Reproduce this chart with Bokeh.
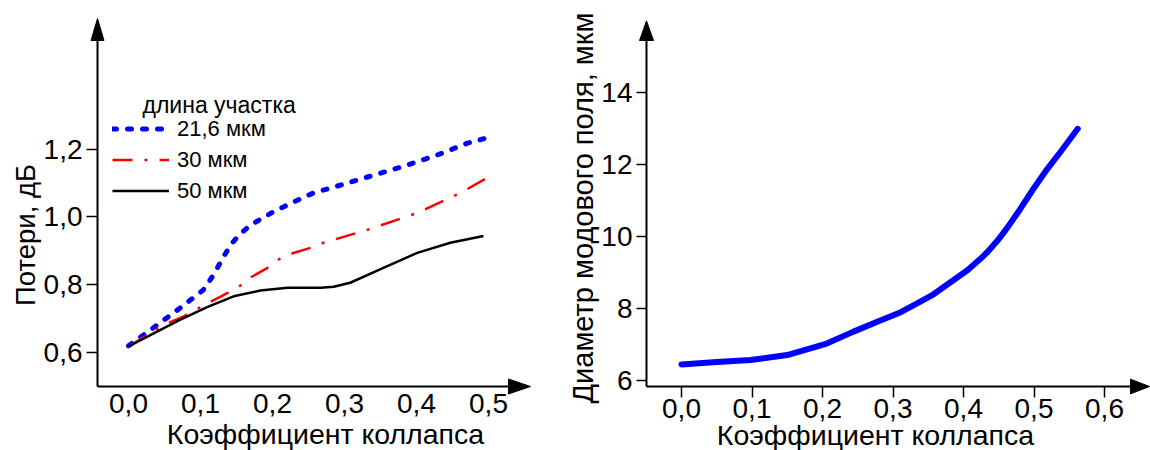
import math
from bokeh.plotting import figure
from bokeh.layouts import row
from bokeh.models import Range1d, FixedTicker, Legend, LegendItem, Label
from bokeh.core.properties import value
from bokeh.embed import file_html
from bokeh.resources import INLINE

# ---------------- data: left panel (losses) ----------------
loss_x_216 = [0.0, 0.035, 0.072, 0.104, 0.118, 0.131, 0.142, 0.153, 0.167, 0.179, 0.201, 0.229, 0.257,
              0.285, 0.332, 0.378, 0.424, 0.471, 0.506]
loss_y_216 = [0.62, 0.674, 0.732, 0.785, 0.829, 0.879, 0.918, 0.945, 0.972, 0.988, 1.015, 1.044, 1.071,
              1.088, 1.118, 1.147, 1.179, 1.218, 1.238]

loss_x_30 = [0.0, 0.049, 0.076, 0.111, 0.128, 0.153, 0.169, 0.193, 0.208, 0.229, 0.253, 0.271, 0.336,
             0.401, 0.461, 0.503]
loss_y_30 = [0.618, 0.682, 0.706, 0.747, 0.765, 0.794, 0.821, 0.850, 0.874, 0.894, 0.909, 0.924, 0.965,
             1.012, 1.071, 1.121]

loss_x_50 = [0.0, 0.035, 0.072, 0.110, 0.146, 0.183, 0.221, 0.267, 0.285, 0.308, 0.354, 0.401, 0.447, 0.493]
loss_y_50 = [0.618, 0.657, 0.697, 0.735, 0.766, 0.783, 0.791, 0.791, 0.794, 0.806, 0.850, 0.894, 0.924, 0.944]

legend_title = "длина участка"
series_labels = ["21,6 мкм", "30 мкм", "50 мкм"]

left_x_ticks = [0.0, 0.1, 0.2, 0.3, 0.4, 0.5]
left_x_labels = ["0,0", "0,1", "0,2", "0,3", "0,4", "0,5"]
loss_ticks = [0.6, 0.8, 1.0, 1.2]
loss_labels = ["0,6", "0,8", "1,0", "1,2"]

# ---------------- data: right panel (mode field diameter) ----------------
mfd_x = [0.0, 0.05, 0.098, 0.150, 0.206, 0.244, 0.282, 0.311, 0.329, 0.357, 0.377, 0.406, 0.424, 0.434,
         0.448, 0.462, 0.481, 0.499, 0.519, 0.538, 0.562]
mfd_y = [6.45, 6.52, 6.57, 6.71, 7.03, 7.36, 7.67, 7.90, 8.09, 8.39, 8.67, 9.07, 9.38, 9.57,
         9.88, 10.24, 10.78, 11.32, 11.88, 12.36, 12.99]

right_x_ticks = [0.0, 0.1, 0.2, 0.3, 0.4, 0.5, 0.6]
right_x_labels = ["0,0", "0,1", "0,2", "0,3", "0,4", "0,5", "0,6"]
mfd_ticks = [6, 8, 10, 12, 14]

x_title = "Коэффициент коллапса"
left_y_title = "Потери, дБ"
right_y_title = "Диаметр модового поля, мкм"

FONT = "Liberation Sans"
TICK_FS = "28px"


def style_axis(ax, ticks, overrides, tick_out, standoff):
    ax.ticker = FixedTicker(ticks=ticks)
    if overrides:
        ax.major_label_overrides = overrides
    ax.major_tick_out = tick_out
    ax.major_tick_in = 0
    ax.minor_tick_out = 0
    ax.minor_tick_in = 0
    ax.major_tick_line_width = 1.5
    ax.major_tick_line_color = "black"
    ax.axis_line_width = 2
    ax.axis_line_color = "black"
    ax.major_label_text_font = FONT
    ax.major_label_text_font_size = TICK_FS
    ax.major_label_text_font_style = "normal"
    ax.major_label_text_color = "black"
    ax.major_label_standoff = standoff


def arrow_heads(p, x0, x1, y0, y1, sx, sy, up_len, up_half, right_len, right_half):
    # filled triangles at the top of the y axis and the right end of the x axis (drawn unclipped)
    p.patch([x0 - up_half / sx, x0 + up_half / sx, x0], [y1, y1, y1 + up_len / sy],
            fill_color="black", line_color="black", line_width=1, level="overlay")
    p.patch([x1, x1, x1 + right_len / sx], [y0 - right_half / sy, y0 + right_half / sy, y0],
            fill_color="black", line_color="black", line_width=1, level="overlay")


def title_text(p, x, y, text, size, angle=0.0):
    p.text(x=[x], y=[y], text=[text], angle=angle, text_align="center", text_baseline="middle",
           text_font=value(FONT), text_font_size=size, text_color="black", level="overlay")


# ---------------- left figure (page x 0..545) ----------------
LSX, LSY = 720.0, 340.0                      # pixels per unit
LX0, LX1 = -31 / LSX, 380 / LSX              # frame: 97 .. 508 px, zero at 128 px
LY0, LY1 = 0.6 - 34 / LSY, 0.6 + 313 / LSY   # frame: 387 .. 40 px, 0.6 at 353 px
p1 = figure(width=545, height=450, title=None, x_range=Range1d(LX0, LX1), y_range=Range1d(LY0, LY1),
            output_backend="svg", toolbar_location=None,
            min_border_left=97, min_border_right=37, min_border_top=40, min_border_bottom=63)
p1.grid.visible = False
p1.outline_line_color = None
style_axis(p1.xaxis[0], left_x_ticks, dict(zip(left_x_ticks, left_x_labels)), 0, 7)
style_axis(p1.yaxis[0], loss_ticks, dict(zip(loss_ticks, loss_labels)), 11, 4)

r216 = p1.line(loss_x_216, loss_y_216, line_color="#0000ff", line_width=5, line_dash="4 11", line_cap="round")
r30 = p1.line(loss_x_30, loss_y_30, line_color="#ff0000", line_width=2.5, line_dash="20 12 3 12")
r50 = p1.line(loss_x_50, loss_y_50, line_color="black", line_width=2.5)

leg = Legend(items=[LegendItem(label=series_labels[0], renderers=[r216]),
                    LegendItem(label=series_labels[1], renderers=[r30]),
                    LegendItem(label=series_labels[2], renderers=[r50])],
             location=(15, 180), padding=0, margin=0, spacing=0,
             glyph_width=57, glyph_height=31, label_height=31, label_standoff=8,
             border_line_color=None, background_fill_alpha=0,
             label_text_font=FONT, label_text_font_size="22px", label_text_color="black")
p1.add_layout(leg)
p1.add_layout(Label(x=45, y=282, x_units="screen", y_units="screen", text=legend_title,
                    text_font=FONT, text_font_size="23px", text_baseline="middle", text_align="left",
                    text_color="black"))
arrow_heads(p1, LX0, LX1, LY0, LY1, LSX, LSY, 22, 6.5, 22, 7.5)
# axis titles: x title centred at page (325, 435), y title at (25, 235)
title_text(p1, (325 - 128) / LSX, 0.6 + (353 - 435) / LSY, x_title, "28.5px")
title_text(p1, (25 - 128) / LSX, 0.6 + (353 - 235) / LSY, left_y_title, "27.5px", math.pi / 2)

# ---------------- right figure (page x 545..1150) ----------------
RSX, RSY = 705.0, 36.75
RX0, RX1 = -35 / RSX, 449 / RSX          # frame: 646 .. 1130 px, zero at 681 px
RY0, RY1 = 6 - 6 / RSY, 6 + 347 / RSY     # frame: 386 .. 33 px, 6 at 380 px
p2 = figure(width=605, height=450, title=None, x_range=Range1d(RX0, RX1), y_range=Range1d(RY0, RY1),
            output_backend="svg", toolbar_location=None,
            min_border_left=101, min_border_right=20, min_border_top=33, min_border_bottom=64)
p2.grid.visible = False
p2.outline_line_color = None
style_axis(p2.xaxis[0], right_x_ticks, dict(zip(right_x_ticks, right_x_labels)), 11, 1)
style_axis(p2.yaxis[0], mfd_ticks, None, 10, 4)

p2.line(mfd_x, mfd_y, line_color="#0000ff", line_width=6, line_cap="round", line_join="round")
arrow_heads(p2, RX0, RX1, RY0, RY1, RSX, RSY, 20, 7, 19, 7.5)
# axis titles: x title centred at page (875, 435), y title at (582, 204)
title_text(p2, (875 - 681) / RSX, 6 + (380 - 435) / RSY, x_title, "28.5px")
title_text(p2, (582 - 681) / RSX, 6 + (380 - 204) / RSY, right_y_title, "29px", math.pi / 2)

layout = row(p1, p2)
open("out.html", "w").write(file_html(layout, INLINE))
